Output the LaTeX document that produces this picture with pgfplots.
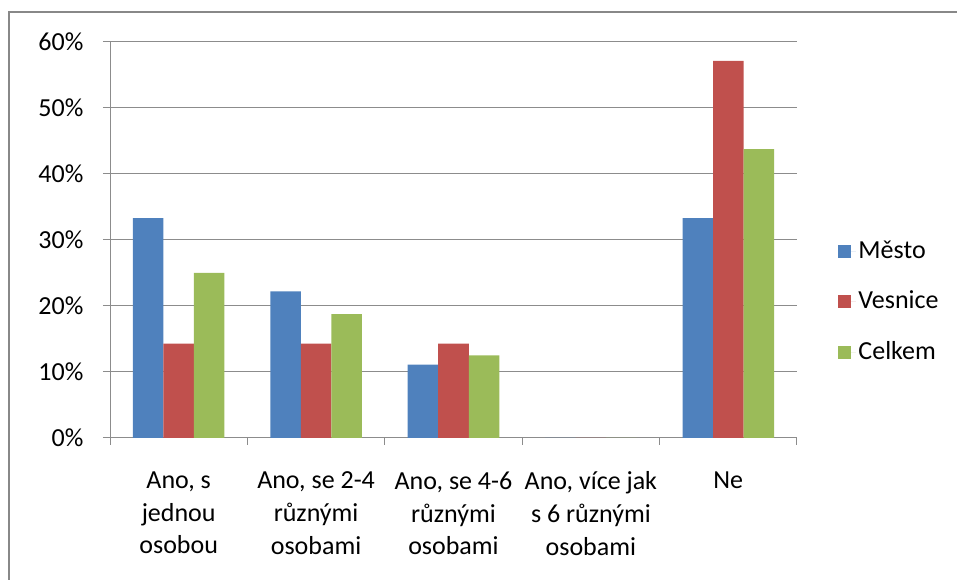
\documentclass[border=0pt]{standalone}
\usepackage{pgfplots}
\pgfplotsset{compat=1.18}
\usepackage{fontspec}
\setmainfont{Carlito}
\definecolor{cBlue}{RGB}{79,129,189}
\definecolor{cRed}{RGB}{192,80,77}
\definecolor{cGreen}{RGB}{155,187,89}
\definecolor{gridgray}{RGB}{140,140,140}
\definecolor{framegray}{RGB}{136,136,136}
\begin{document}
\fontsize{19.5}{24.5}\selectfont
\begin{tikzpicture}[x=0.75pt,y=0.75pt]
\path[use as bounding box] (0,0) rectangle (957,580);
\draw[framegray, line width=1.6pt] (9,-5) -- (9,568) -- (962,568);
\begin{axis}[
  at={(82.5pt,106.5pt)}, anchor=south west,
  scale only axis, width=515.25pt, height=297pt,
  xmin=-0.5, xmax=4.5, ymin=0, ymax=60,
  axis lines*=left,
  axis line style={draw=gridgray, line width=0.75pt},
  ybar=0pt, bar width=0.222,
  ytick={0,10,...,60},
  yticklabel={\pgfmathprintnumber{\tick}\%},
  ymajorgrids, grid style={draw=gridgray, line width=0.75pt},
  xtick={0,...,4},
  xticklabels={{Ano, s\\jednou\\osobou},{Ano, se 2-4\\různými\\osobami},{Ano, se 4-6\\různými\\osobami},{Ano, více jak\\s 6 různými\\osobami},{Ne}},
  minor xtick={-0.5,0.5,...,4.5},
  tick align=outside,
  major tick length=5.25pt, minor tick length=5.25pt,
  major x tick style={draw=none},
  every tick/.style={draw=gridgray, line width=0.75pt},
  minor x tick style={draw=gridgray, line width=0.75pt},
  y tick style={draw=gridgray, line width=0.75pt},
  /pgf/number format/assume math mode=true,
  tick label style={font=\fontsize{19.5}{24.5}\selectfont},
  xticklabel style={align=center, yshift=-13.5pt},
  yticklabel style={xshift=-8pt},
  legend style={at={(1.06,0.343)}, anchor=west, draw=none, fill=none, inner sep=0pt,
    font=\fontsize{19.5}{23.6}\selectfont, row sep=17.5pt},
  legend cell align=left,
  legend image code/.code={\fill[#1,draw=none] (0pt,-4.9pt) rectangle (9.75pt,4.9pt); \path (0pt,0pt) -- (13pt,0pt);},
]
\addplot[fill=cBlue, draw=none] coordinates {(0,33.33) (1,22.22) (2,11.11) (3,0) (4,33.33)};
\addplot[fill=cRed, draw=none] coordinates {(0,14.29) (1,14.29) (2,14.29) (3,0) (4,57.14)};
\addplot[fill=cGreen, draw=none] coordinates {(0,25) (1,18.75) (2,12.5) (3,0) (4,43.75)};
\legend{Město,Vesnice,Celkem}
\end{axis}
\end{tikzpicture}
\end{document}
